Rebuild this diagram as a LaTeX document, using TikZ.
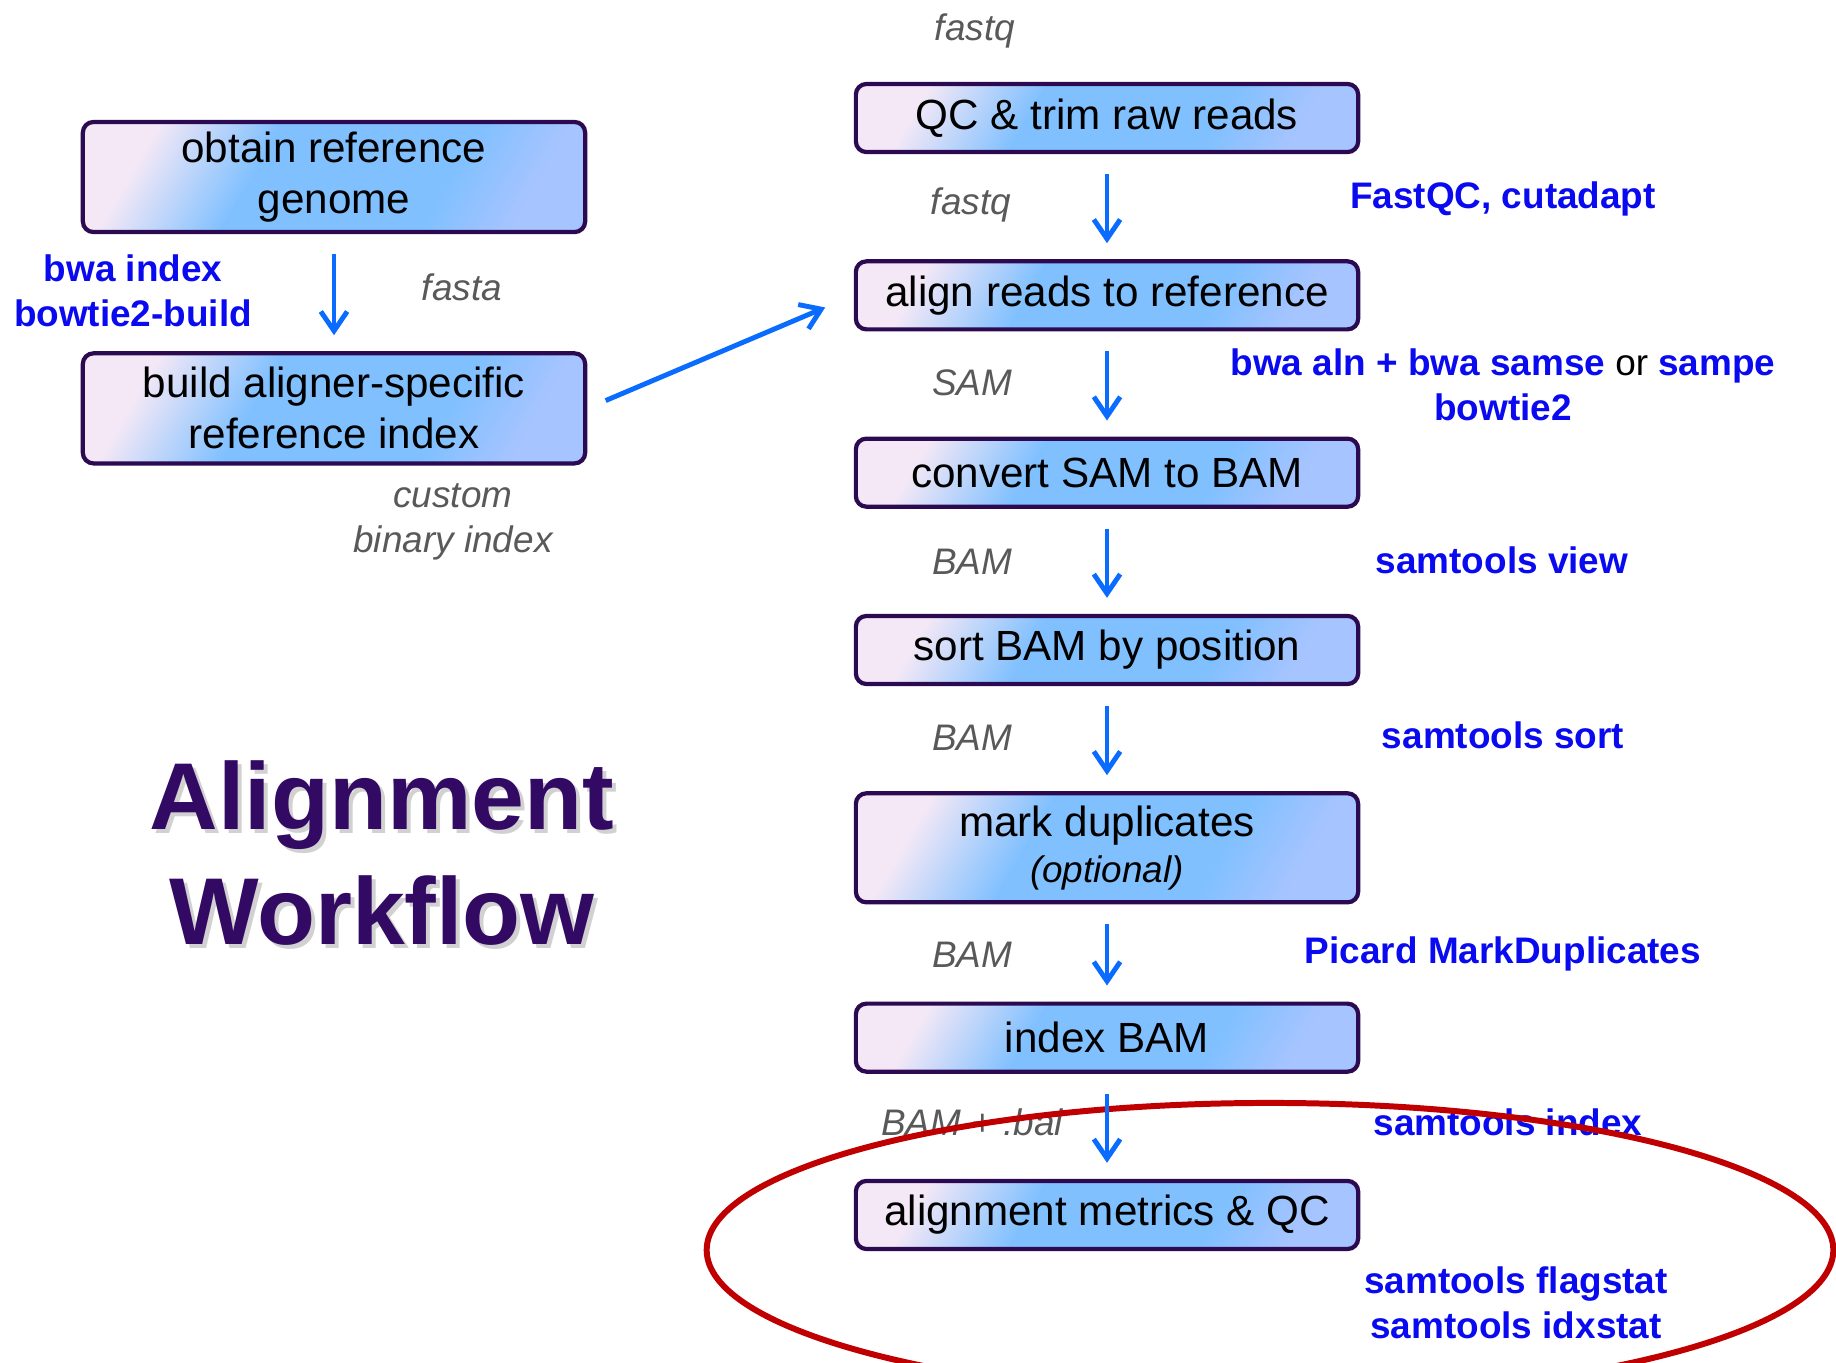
\documentclass[tikz,border=0pt]{standalone}
\usepackage{fontspec}
\setmainfont{Liberation Sans}
\usetikzlibrary{positioning,arrows.meta}
\definecolor{FlowPurple}{HTML}{2B0A52}
\definecolor{TitlePurple}{HTML}{330A63}
\definecolor{ToolBlue}{HTML}{0A0AF0}
\definecolor{ArrowBlue}{HTML}{0A6CFF}
\definecolor{FileGray}{HTML}{595959}
\definecolor{RingRed}{HTML}{C00000}
\definecolor{BoxLilac}{HTML}{F4E8F6}
\definecolor{BoxSky}{HTML}{80C0FF}
\definecolor{BoxPale}{HTML}{A6C4FF}
\pgfdeclareverticalshading{boxfill}{100bp}{color(0bp)=(BoxPale); color(25bp)=(BoxPale);
  color(36bp)=(BoxSky); color(60bp)=(BoxSky); color(75bp)=(BoxLilac); color(100bp)=(BoxLilac)}

\begin{document}
\begin{tikzpicture}[
  x=0.01cm, y=-0.01cm,
  node distance=10.5mm,
  stepbox/.style={draw=FlowPurple,line width=1.2pt,rounded corners=3pt,
    shading=boxfill,shading angle=60,inner ysep=1pt,
    minimum width=50.2mm,minimum height=6.8mm,align=center,font=\fontsize{12}{14.5}\selectfont},
  filelabel/.style={text=FileGray,align=center,font=\fontsize{10.5}{12.7}\selectfont\itshape},
  toollabel/.style={text=ToolBlue,align=center,font=\fontsize{10.5}{12.7}\selectfont\bfseries},
  titletext/.style={text=TitlePurple,align=center,font=\fontsize{27}{32.7}\selectfont\bfseries},
  arr/.style={-{Straight Barb[length=5.5pt,width=7.5pt]},draw=ArrowBlue,line width=1.4pt,
    shorten <=2mm,shorten >=1.6mm}
]
  \useasboundingbox (0,0) rectangle (1836,1362);

  % main column
  \node[stepbox] (qc) at (1107,118) {QC \& trim raw reads};
  \node[stepbox,below=of qc] (align) {align reads to reference};
  \node[stepbox,below=of align] (convert) {convert SAM to BAM};
  \node[stepbox,below=of convert] (sortbam) {sort BAM by position};
  \node[stepbox,below=of sortbam,minimum height=10.9mm] (markdup) {mark duplicates\\[-1.5pt]{\fontsize{10.5}{12}\selectfont\itshape (optional)}};
  \node[stepbox,below=9.7mm of markdup] (indexbam) {index BAM};
  \node[stepbox,below=of indexbam] (metrics) {alignment metrics \& QC};

  % reference side
  \node[stepbox,minimum height=11mm] (genome) at (334,177) {obtain reference\\genome};
  \node[stepbox,minimum height=11mm,below=11.7mm of genome] (refindex) {build aligner-specific\\reference index};

  % file types
  \node[filelabel] (in-fastq) at (975,31) {fastq};
  \node[filelabel] (f-qc) at (971,205) {fastq};
  \node[filelabel] (f-align) at (972,383) {SAM};
  \node[filelabel] (f-convert) at (972,562) {BAM};
  \node[filelabel] (f-sort) at (972,738) {BAM};
  \node[filelabel] (f-markdup) at (972,955) {BAM};
  \node[filelabel] (f-index) at (972,1122) {BAM + .bai};
  \node[filelabel] (f-genome) at (462,287) {fasta};
  \node[filelabel] (f-refindex) at (453,522) {custom\\binary index};

  % tools
  \node[toollabel] (t-qc) at (1503,199) {FastQC, cutadapt};
  \node[toollabel] (t-align) at (1503,385) {bwa aln + bwa samse {\mdseries\color{black}or} sampe\\bowtie2};
  \node[toollabel] (t-convert) at (1502,560) {samtools view};
  \node[toollabel] (t-sort) at (1503,735) {samtools sort};
  \node[toollabel] (t-markdup) at (1503,954) {Picard MarkDuplicates};
  \node[toollabel] (t-index) at (1508,1122) {samtools index};
  \node[toollabel] (t-metrics) at (1516,1303) {samtools flagstat\\samtools idxstat};
  \node[toollabel] (t-genome) at (133,291) {bwa index\\bowtie2-build};

  % title
  \node[titletext,text=black!30,opacity=0.6] (ttl-shadow) at (386,857) {Alignment\\Workflow};
  \node[titletext] (ttl) at (382,853) {Alignment\\Workflow};

  % highlight ring
  \begin{scope}
    \clip (0,0) rectangle (1836,1362);
    \draw[RingRed,line width=1.7pt] (1270,1250) ellipse [x radius=5.63cm,y radius=1.47cm];
  \end{scope}

  \draw[arr] (qc) -- (align);
  \draw[arr] (align) -- (convert);
  \draw[arr] (convert) -- (sortbam);
  \draw[arr] (sortbam) -- (markdup);
  \draw[arr] (markdup) -- (indexbam);
  \draw[arr] (indexbam) -- (metrics);
  \draw[arr] (genome) -- (refindex);
  \draw[arr,shorten >=3.1mm] (refindex.east) -- (align.west);
\end{tikzpicture}
\end{document}
